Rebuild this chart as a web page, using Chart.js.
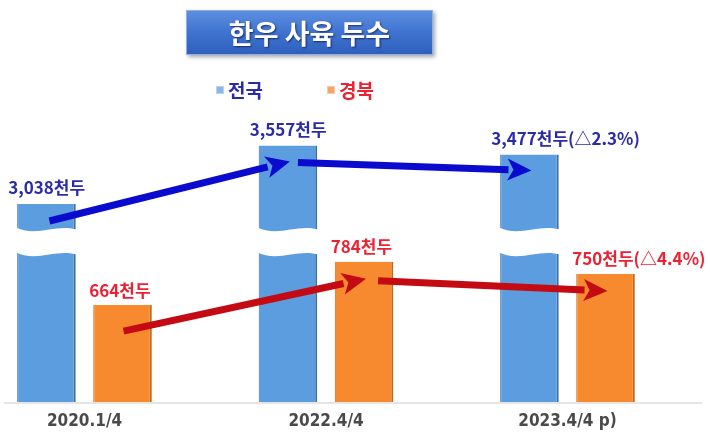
<!DOCTYPE html>
<html><head><meta charset="utf-8">
<script src="https://cdn.jsdelivr.net/npm/chart.js@4"></script>
<style>html,body{margin:0;padding:0;background:#fff;overflow:hidden;}</style>
</head><body>
<canvas id="c" width="710" height="434" style="width:710px;height:434px;display:block"></canvas>
<script>
const chartTitle = '한우 사육 두수';
const categories = ['2020.1/4', '2022.4/4', '2023.4/4 p)'];
const seriesNames = ['전국', '경북'];
const nationalValues = [3038, 3557, 3477];
const gyeongbukValues = [664, 784, 750];
const nationalChange = [null, null, 2.3];
const gyeongbukChange = [null, null, 4.4];
const valueUnit = '천두';

// truncated (broken) value axes
const N_MIN = 1285, N_MAX = 3959;
const G_MIN = 396, G_MAX = 1231;

const KFONT = '"Noto Sans CJK KR", "Noto Sans", sans-serif';
const BLUE_BAR = '#5b9dde', ORANGE_BAR = '#f7892f';
const BLUE_TXT = '#2b2ba8', RED_TXT = '#ec2233';
const BLUE_ARROW = '#0b0bd0', RED_ARROW = '#c40a12';

function arrow(ctx, x1, y1, x2, y2, color, lw, hl, hw) {
  const a = Math.atan2(y2 - y1, x2 - x1);
  const bx = x2 - hl * Math.cos(a), by = y2 - hl * Math.sin(a);
  ctx.save();
  ctx.strokeStyle = color; ctx.fillStyle = color; ctx.lineWidth = lw; ctx.lineCap = 'butt';
  ctx.beginPath(); ctx.moveTo(x1, y1); ctx.lineTo(bx + Math.cos(a), by + Math.sin(a)); ctx.stroke();
  ctx.beginPath();
  ctx.moveTo(x2, y2);
  ctx.lineTo(bx + hw / 2 * Math.sin(a), by - hw / 2 * Math.cos(a));
  ctx.lineTo(bx + hl * 0.25 * Math.cos(a), by + hl * 0.25 * Math.sin(a));
  ctx.lineTo(bx - hw / 2 * Math.sin(a), by + hw / 2 * Math.cos(a));
  ctx.closePath(); ctx.fill();
  ctx.restore();
}

function labelText(v, ch) {
  return v.toLocaleString('en-US') + valueUnit + (ch != null ? '(△' + ch + '%)' : '');
}

const decor = {
  id: 'decor',
  beforeDatasetsDraw(chart) {
    const ctx = chart.ctx, ca = chart.chartArea;
    ctx.save();
    ctx.strokeStyle = '#dcdcdc'; ctx.lineWidth = 1.5;
    ctx.beginPath(); ctx.moveTo(4, ca.bottom + 1); ctx.lineTo(702, ca.bottom + 1); ctx.stroke();
    ctx.restore();
  },
  afterDatasetsDraw(chart) {
    const ctx = chart.ctx, ca = chart.chartArea;
    const bm = chart.getDatasetMeta(0).data, om = chart.getDatasetMeta(1).data;
    // axis-break band on national bars
    const y0 = ca.top + 127, gap = 25;
    bm.forEach(bar => {
      const L = bar.x - bar.width / 2 - 2, R = bar.x + bar.width / 2 + 2, w = R - L;
      ctx.save(); ctx.fillStyle = '#ffffff';
      ctx.beginPath();
      ctx.moveTo(L, y0);
      ctx.bezierCurveTo(L + w / 3, y0 + 11, L + 2 * w / 3, y0 - 4, R, y0 + 3);
      ctx.lineTo(R, y0 + 3 + gap);
      ctx.bezierCurveTo(L + 2 * w / 3, y0 - 4 + gap, L + w / 3, y0 + 11 + gap, L, y0 + gap);
      ctx.closePath(); ctx.fill(); ctx.restore();
    });
    // value labels
    ctx.save();
    ctx.font = 'bold 17px ' + KFONT; ctx.textBaseline = 'middle'; ctx.textAlign = 'left';
    bm.forEach((bar, i) => {
      ctx.fillStyle = BLUE_TXT;
      ctx.fillText(labelText(nationalValues[i], nationalChange[i]), bar.x - bar.width / 2 - 9, bar.y - 16);
    });
    om.forEach((bar, i) => {
      ctx.fillStyle = RED_TXT;
      ctx.fillText(labelText(gyeongbukValues[i], gyeongbukChange[i]), bar.x - bar.width / 2 - 4, bar.y - 15);
    });
    ctx.restore();
    // trend arrows
    for (let i = 0; i < bm.length - 1; i++) {
      const a = bm[i], b = bm[i + 1];
      arrow(ctx, a.x + (i ? 10 : 3), a.y + 17, b.x + 2, b.y + 16, BLUE_ARROW, 7, 24, 22);
    }
    for (let i = 0; i < om.length - 1; i++) {
      const a = om[i], b = om[i + 1];
      arrow(ctx, a.x + (i ? 14 : 1), a.y + (i ? 19 : 26), b.x + 2, b.y + 17, RED_ARROW, 7, 24, 22);
    }
  },
  afterDraw(chart) {
    const ctx = chart.ctx;
    // title box
    ctx.save();
    const bx = 186, by = 10, bw = 247, bh = 45;
    ctx.shadowColor = 'rgba(0,0,0,0.35)'; ctx.shadowBlur = 4; ctx.shadowOffsetX = 2; ctx.shadowOffsetY = 2;
    const g = ctx.createLinearGradient(0, by, 0, by + bh);
    g.addColorStop(0, '#5e90e0'); g.addColorStop(0.5, '#3f73d0'); g.addColorStop(1, '#2f5fbc');
    ctx.fillStyle = g; ctx.fillRect(bx, by, bw, bh);
    ctx.shadowColor = 'rgba(0,0,0,0)';
    ctx.strokeStyle = '#8fb0e8'; ctx.lineWidth = 1; ctx.strokeRect(bx + 0.5, by + 0.5, bw - 1, bh - 1);
    ctx.font = 'bold 27px ' + KFONT; ctx.textAlign = 'center'; ctx.textBaseline = 'middle';
    ctx.shadowColor = 'rgba(0,0,40,0.6)'; ctx.shadowBlur = 2; ctx.shadowOffsetX = 1; ctx.shadowOffsetY = 1;
    ctx.fillStyle = '#ffffff'; ctx.fillText(chartTitle, bx + bw / 2, by + bh / 2 + 1);
    ctx.restore();
    // legend
    ctx.save();
    ctx.font = 'bold 19px ' + KFONT; ctx.textBaseline = 'middle'; ctx.textAlign = 'left';
    const items = [
      { x: 216, fill: '#8ab8e6', stroke: '#b8d4f0', color: BLUE_TXT, text: seriesNames[0] },
      { x: 327, fill: '#f4a56a', stroke: '#f8c9a4', color: RED_TXT, text: seriesNames[1] }
    ];
    items.forEach(it => {
      ctx.fillStyle = it.fill; ctx.fillRect(it.x, 86, 8, 8);
      ctx.strokeStyle = it.stroke; ctx.lineWidth = 1; ctx.strokeRect(it.x + 0.5, 86.5, 7, 7);
      ctx.fillStyle = it.color; ctx.fillText(it.text, it.x + 12, 91);
    });
    ctx.restore();
  }
};

new Chart(document.getElementById('c'), {
  type: 'bar',
  data: {
    labels: categories,
    datasets: [
      { label: seriesNames[0], data: nationalValues, yAxisID: 'yN', base: N_MIN, backgroundColor: BLUE_BAR,
        borderColor: '#3d6fa6', borderWidth: { left: 1, right: 2, top: 0, bottom: 0 }, borderSkipped: false, clip: false },
      { label: seriesNames[1], data: gyeongbukValues, yAxisID: 'yG', base: G_MIN, backgroundColor: ORANGE_BAR,
        borderColor: '#c2661c', borderWidth: { left: 1, right: 2, top: 0, bottom: 0 }, borderSkipped: false, clip: false }
    ]
  },
  options: {
    responsive: false,
    animation: false,
    devicePixelRatio: 1,
    categoryPercentage: 0.63,
    barPercentage: 0.77,
    layout: { padding: { left: 84.5, right: 142.5, top: 100, bottom: -6.4 } },
    plugins: { legend: { display: false }, title: { display: false }, tooltip: { enabled: false } },
    scales: {
      x: {
        offset: false,
        grid: { display: false, drawTicks: false, offset: false },
        border: { display: false },
        ticks: { padding: 9, color: '#4a4a4a', font: { family: '"Liberation Sans Narrow", "DejaVu Sans Condensed", sans-serif', size: 17, weight: 'bold' } }
      },
      yN: { display: false, beginAtZero: false, min: N_MIN, max: N_MAX },
      yG: { display: false, beginAtZero: false, min: G_MIN, max: G_MAX }
    }
  },
  plugins: [decor]
});
</script>
</body></html>
